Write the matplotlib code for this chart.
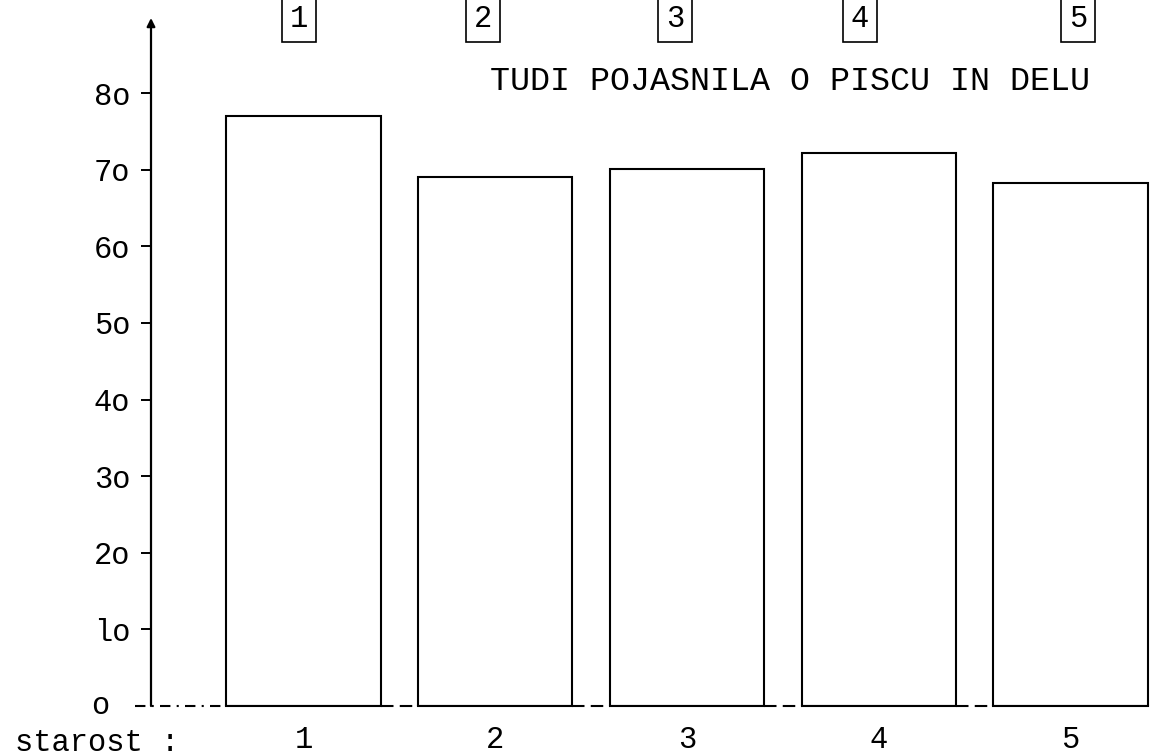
import matplotlib
matplotlib.use("Agg")
import matplotlib.pyplot as plt

# ---- data ----
categories = ["1", "2", "3", "4", "5"]
values = [77.0, 69.0, 70.1, 72.2, 68.3]
ytick_values = [10, 20, 30, 40, 50, 60, 70, 80]
ytick_labels = ["lo", "2o", "3o", "4o", "5o", "6o", "7o", "8o"]
zero_label = "o"
box_labels = ["1", "2", "3", "4", "5"]
title = "TUDI POJASNILA O PISCU IN DELU"
xlabel = "starost :"

FONT = "Liberation Mono"
W, H = 1150, 756
fig = plt.figure(figsize=(W / 100, H / 100), dpi=100)
fig.patch.set_facecolor("white")

# axes: y-axis at x=151px, baseline at y=706px, top at y=18px
ax_left, ax_right = 151, 1150
ax_bottom, ax_top = 706, 18
ax = fig.add_axes([ax_left / W, (H - ax_bottom) / H,
                   (ax_right - ax_left) / W, (ax_bottom - ax_top) / H])
ax.set_facecolor("white")

x = list(range(len(categories)))
bar_w = 0.805
ax.set_xlim(-0.795, 4.415)
ax.set_ylim(0, 89.8)

ax.bar(x, values, width=bar_w, facecolor="white", edgecolor="black",
       linewidth=1.5, zorder=2)

for s in ax.spines.values():
    s.set_visible(False)

# y axis with arrow
ax.annotate("", xy=(-0.795, 89.8), xytext=(-0.795, 0),
            arrowprops=dict(arrowstyle="-|>", lw=1.6, color="black",
                            mutation_scale=12, shrinkA=0, shrinkB=0),
            annotation_clip=False)

# baseline: dashed outside/between bars, solid under bars
x_start = -0.88
edges = []
for xi in x:
    edges.append((xi - bar_w / 2, xi + bar_w / 2))
ax.plot([x_start, edges[0][0]], [0, 0], color="black", lw=1.5,
        ls=(0, (5, 3, 1, 3)), clip_on=False, zorder=3)
for i in range(len(edges) - 1):
    ax.plot([edges[i][1], edges[i + 1][0]], [0, 0], color="black", lw=1.5,
            ls=(0, (6, 3)), clip_on=False, zorder=3)
for a, b in edges:
    ax.plot([a, b], [0, 0], color="black", lw=1.5, clip_on=False, zorder=3)

# y ticks
ax.set_yticks(ytick_values)
ax.set_yticklabels(ytick_labels, fontfamily=FONT, fontsize=22)
ax.tick_params(axis="y", direction="out", length=7, width=1.4, pad=8,
               colors="black")
ax.text(-0.795 - 51 / 191.75, 0, zero_label, fontfamily=FONT, fontsize=22,
        ha="center", va="center", clip_on=False)

# x ticks
ax.set_xticks(x)
ax.set_xticklabels(categories, fontfamily=FONT, fontsize=22)
ax.tick_params(axis="x", length=0, pad=14)

# x label "starost :"
fig.text(15 / W, 1 - 743 / H, xlabel, fontfamily=FONT, fontsize=22,
         ha="left", va="center")

# boxed numbers at top
box_px = [299, 483, 675, 860, 1078]
for px, lab in zip(box_px, box_labels):
    fig.text(px / W, 1 - 19 / H, lab, fontfamily=FONT, fontsize=22,
             ha="center", va="center",
             bbox=dict(boxstyle="square,pad=0.25", facecolor="white",
                       edgecolor="black", linewidth=1.2))

# title
fig.text(790 / W, 1 - 82 / H, title, fontfamily=FONT, fontsize=24,
         ha="center", va="center")

fig.savefig("out.png", dpi=100, facecolor="white")
